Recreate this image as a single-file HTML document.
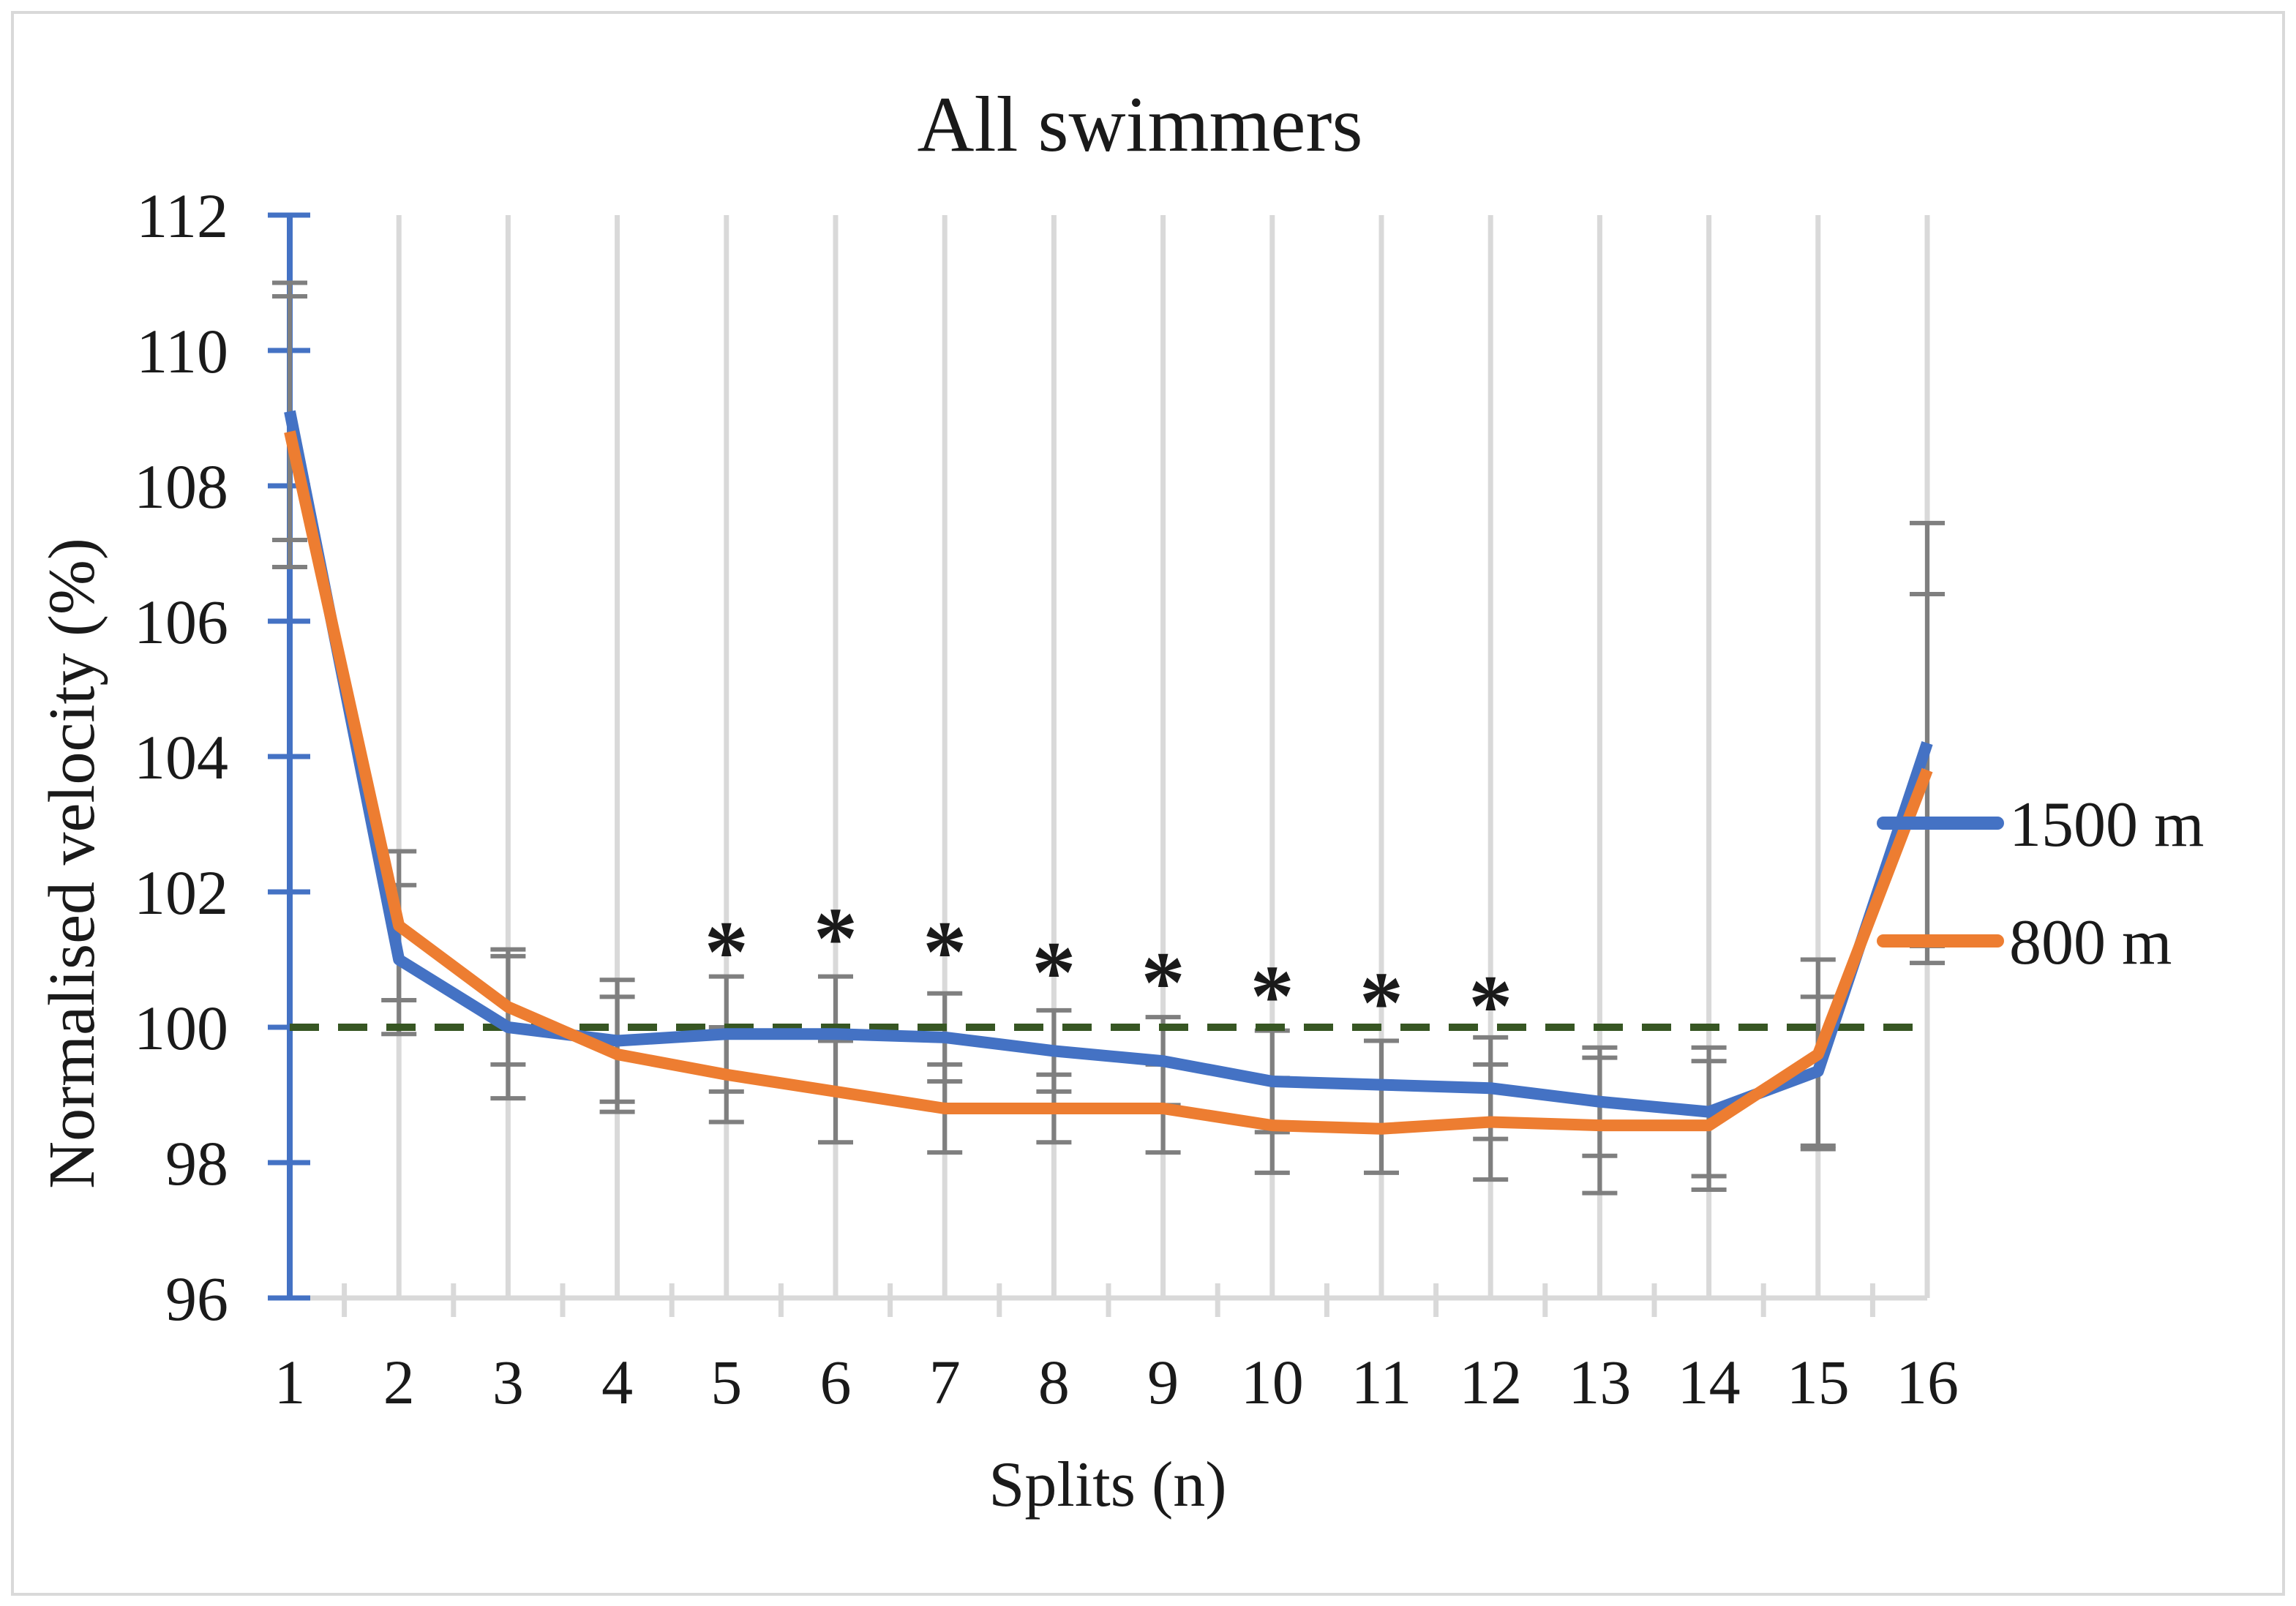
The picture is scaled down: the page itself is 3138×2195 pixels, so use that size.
<!DOCTYPE html>
<html><head><meta charset="utf-8"><style>
html,body{margin:0;padding:0;background:#fff}
svg{display:block}
text{font-family:"Liberation Serif",serif;fill:#1a1a1a}
</style></head><body>
<svg id="chart" width="3138" height="2195" viewBox="0 0 3138 2195" xmlns="http://www.w3.org/2000/svg">
<rect x="17" y="17" width="3104" height="2162" fill="#fff" stroke="#d9d9d9" stroke-width="4"/>
<text x="1558" y="206" font-size="108" text-anchor="middle">All swimmers</text>
<g id="grid"></g><g id="axes"></g><g id="errs"></g><g id="lines"></g><g id="stars"></g>
<text x="1514" y="2058" font-size="88" text-anchor="middle">Splits (n)</text>
<text transform="translate(128,1180) rotate(-90)" font-size="90" text-anchor="middle">Normalised velocity (%)</text>
<g>
<line x1="2574" y1="1125" x2="2730" y2="1125" stroke="#4472c4" stroke-width="18" stroke-linecap="round"/>
<text x="2746" y="1156" font-size="88">1500 m</text>
<line x1="2574" y1="1286" x2="2730" y2="1286" stroke="#ed7d31" stroke-width="18" stroke-linecap="round"/>
<text x="2746" y="1317" font-size="88">800 m</text>
</g>
</svg>
<script>
const splits=[1,2,3,4,5,6,7,8,9,10,11,12,13,14,15,16];
const v1500=[109.1,101.0,100.0,99.8,99.9,99.9,99.85,99.65,99.5,99.2,99.15,99.1,98.9,98.75,99.35,104.2];
const v800=[108.8,101.5,100.3,99.6,99.3,99.05,98.8,98.8,98.8,98.55,98.5,98.6,98.55,98.55,99.6,103.8];
const sd1500=[1.9,1.1,1.05,0.9,0.85,0.85,0.65,0.6,0.65,0.75,0.65,0.75,0.8,0.95,1.1,3.25];
const sd800=[2.0,1.1,0.85,0.85,0.7,0.75,0.65,0.5,0.65,0.7,0.65,0.85,1.0,0.95,1.4,2.6];
const yTicks=[96,98,100,102,104,106,108,110,112];
const starSplits=[5,6,7,8,9,10,11,12];
const starVals=[101.35,101.55,101.35,101.05,100.9,100.7,100.6,100.55];
const refValue=100;

const NS="http://www.w3.org/2000/svg";
const X0=396,X1=2634,Y0=1774,Y1=294,VMIN=96,VMAX=112;
const xs=s=>X0+(s-1)*(X1-X0)/15;
const ys=v=>Y0-(v-VMIN)*(Y0-Y1)/(VMAX-VMIN);
function mk(parent,tag,attrs){const e=document.createElementNS(NS,tag);for(const k in attrs)e.setAttribute(k,attrs[k]);document.getElementById(parent).appendChild(e);return e;}

splits.forEach(s=>{if(s===1)return;
 const g=mk('grid','line',{x1:xs(s),x2:xs(s),y1:Y1,y2:Y0,stroke:'#d9d9d9','stroke-width':7});
 
 
});
const xa=mk('axes','line',{x1:X0,x2:X1,y1:Y0,y2:Y0,stroke:'#d9d9d9','stroke-width':7});


for(let i=0;i<15;i++){const x=(xs(i+1)+xs(i+2))/2;
 const t=mk('axes','line',{x1:x,x2:x,y1:Y0-20,y2:Y0+26,stroke:'#d9d9d9','stroke-width':7});
 
 
}
splits.forEach(s=>{
 const t=mk('axes','text',{x:xs(s),y:1918,'font-size':86,'text-anchor':'middle'});t.textContent=s;
 
 
});
const ya=mk('axes','line',{x1:X0,x2:X0,y1:Y1,y2:Y0,stroke:'#4472c4','stroke-width':8});


yTicks.forEach(v=>{
 const t=mk('axes','line',{x1:366,x2:424,y1:ys(v),y2:ys(v),stroke:'#4472c4','stroke-width':7});
 
 
 const l=mk('axes','text',{x:312,y:ys(v)+30,'font-size':86,'text-anchor':'end'});l.textContent=v;
 
 
});
function errs(vals,sds,name){vals.forEach((v,i)=>{const x=xs(splits[i]);const hi=ys(v+sds[i]),lo=ys(v-sds[i]);
 const e=mk('errs','path',{d:`M${x},${hi}V${lo}M${x-24},${hi}H${x+24}M${x-24},${lo}H${x+24}`,stroke:'#7f7f7f','stroke-width':6,fill:'none'});
 
 
});}
errs(v1500,sd1500,'1500m');errs(v800,sd800,'800m');
const rl=mk('lines','line',{x1:X0,x2:2615,y1:ys(refValue),y2:ys(refValue),stroke:'#375623','stroke-width':10,'stroke-dasharray':'40 26'});


function series(vals,color,name){
 const p=mk('lines','polyline',{points:vals.map((v,i)=>xs(splits[i])+','+ys(v)).join(' '),fill:'none',stroke:color,'stroke-width':16,'stroke-linejoin':'round'});
 
 
}
series(v1500,'#4472c4','series-1500m');
series(v800,'#ed7d31','series-800m');
starSplits.forEach((s,i)=>{
 const t=mk('stars','text',{x:xs(s),y:ys(starVals[i])+62,'font-size':120,'font-weight':'bold','text-anchor':'middle'});t.textContent='*';
 
 
});
</script>
</body></html>
